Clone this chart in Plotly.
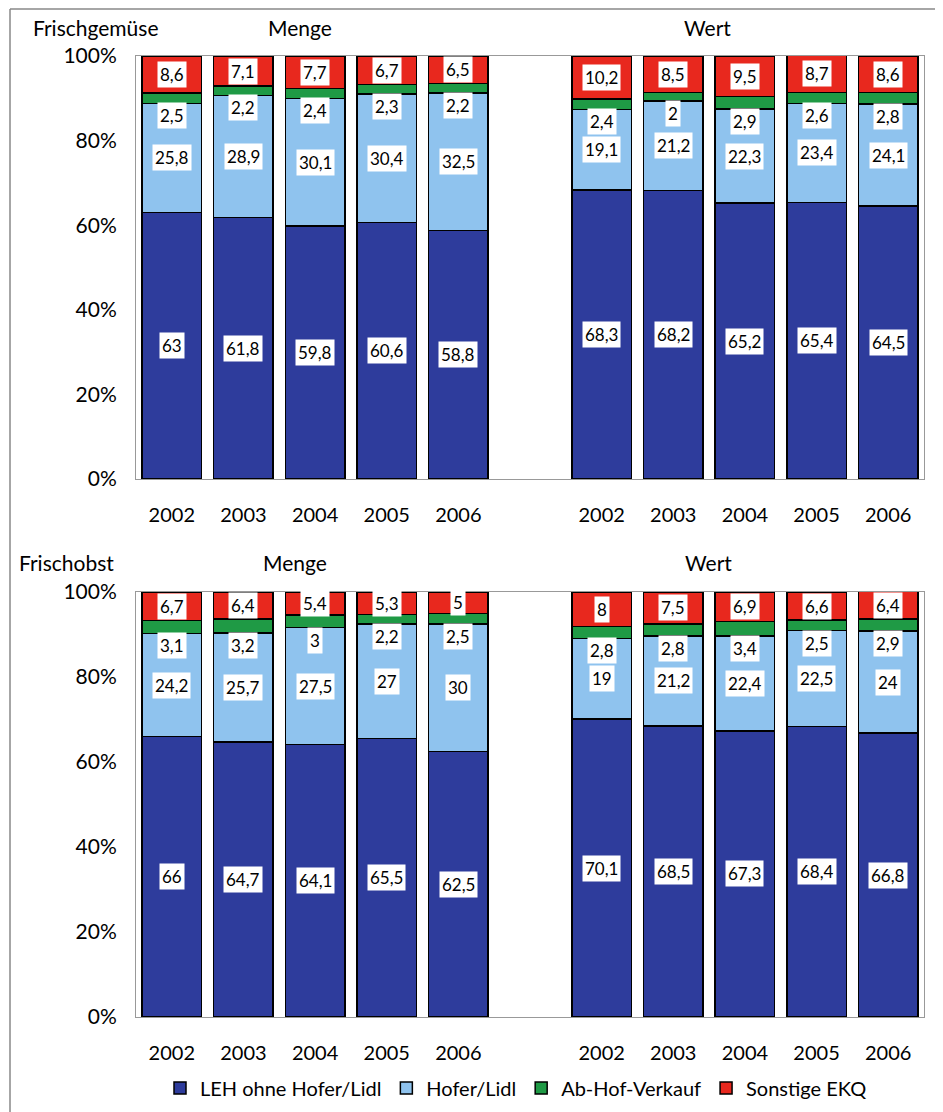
import plotly.graph_objects as go

years = ["2002", "2003", "2004", "2005", "2006"]
series_names = ["LEH ohne Hofer/Lidl", "Hofer/Lidl", "Ab-Hof-Verkauf", "Sonstige EKQ"]
y_ticks = [0, 20, 40, 60, 80, 100]
y_ticklabels = ["0%", "20%", "40%", "60%", "80%", "100%"]

# Frischgemüse
gem_menge_leh = [63, 61.8, 59.8, 60.6, 58.8]
gem_menge_hofer = [25.8, 28.9, 30.1, 30.4, 32.5]
gem_menge_abhof = [2.5, 2.2, 2.4, 2.3, 2.2]
gem_menge_sonst = [8.6, 7.1, 7.7, 6.7, 6.5]
gem_wert_leh = [68.3, 68.2, 65.2, 65.4, 64.5]
gem_wert_hofer = [19.1, 21.2, 22.3, 23.4, 24.1]
gem_wert_abhof = [2.4, 2, 2.9, 2.6, 2.8]
gem_wert_sonst = [10.2, 8.5, 9.5, 8.7, 8.6]

# Frischobst
obst_menge_leh = [66, 64.7, 64.1, 65.5, 62.5]
obst_menge_hofer = [24.2, 25.7, 27.5, 27, 30]
obst_menge_abhof = [3.1, 3.2, 3, 2.2, 2.5]
obst_menge_sonst = [6.7, 6.4, 5.4, 5.3, 5]
obst_wert_leh = [70.1, 68.5, 67.3, 68.4, 66.8]
obst_wert_hofer = [19, 21.2, 22.4, 22.5, 24]
obst_wert_abhof = [2.8, 2.8, 3.4, 2.5, 2.9]
obst_wert_sonst = [8, 7.5, 6.9, 6.6, 6.4]

colors = ["#2E3C9C", "#8FC3EE", "#1F9A45", "#E8281E"]
FONT = "Lato, Roboto, sans-serif"

# the page adds an 8px body margin; lay out in reference pixels minus that offset
OFF = 8
W, H = 943 - OFF, 1112 - OFF


def px(x):
    return (x - OFF) / W


def py(y):
    return 1 - (y - OFF) / H


slots_menge = [0, 1, 2, 3, 4]
slots_wert = [6, 7, 8, 9, 10]

panels = [
    dict(row=1, menge=[gem_menge_leh, gem_menge_hofer, gem_menge_abhof, gem_menge_sonst],
         wert=[gem_wert_leh, gem_wert_hofer, gem_wert_abhof, gem_wert_sonst]),
    dict(row=2, menge=[obst_menge_leh, obst_menge_hofer, obst_menge_abhof, obst_menge_sonst],
         wert=[obst_wert_leh, obst_wert_hofer, obst_wert_abhof, obst_wert_sonst]),
]

fig = go.Figure()


def fmt(v):
    return ("%g" % v).replace(".", ",")


annotations = []
for p in panels:
    xa = "x" if p["row"] == 1 else "x2"
    ya = "y" if p["row"] == 1 else "y2"
    for si in range(4):
        xs = slots_menge + slots_wert
        ys = p["menge"][si] + p["wert"][si]
        fig.add_trace(go.Bar(
            x=xs, y=ys, name=series_names[si], xaxis=xa, yaxis=ya,
            marker=dict(color=colors[si], line=dict(color="black", width=1.5)),
            width=0.83, showlegend=(p["row"] == 1), legendgroup=series_names[si],
            hoverinfo="skip",
        ))
    for grp, slots in (("menge", slots_menge), ("wert", slots_wert)):
        leh, hof, ab, so = p[grp]
        for i, xv in enumerate(slots):
            positions = [
                (leh[i], leh[i] / 2),
                (hof[i], leh[i] + hof[i] / 2),
                (ab[i], leh[i] + hof[i] - 2.9),
                (so[i], leh[i] + hof[i] + ab[i] + so[i] / 2),
            ]
            for val, yv in positions:
                annotations.append(dict(
                    x=xv, y=yv, xref=xa, yref=ya, text=fmt(val), showarrow=False,
                    bgcolor="white", borderpad=2,
                    font=dict(family=FONT, size=17, color="black"),
                ))

xdom = [px(136), px(924)]
top_dom = [py(479), py(56)]
bot_dom = [py(1017), py(592)]

axis_common_x = dict(
    range=[-0.5, 10.5], tickvals=slots_menge + slots_wert, ticktext=years + years,
    showgrid=False, zeroline=False, showline=True, linecolor="#999999", linewidth=1,
    mirror=True, ticks="", tickfont=dict(family=FONT, size=20, color="black"),
    ticklabelstandoff=18, domain=xdom, automargin=False,
)
axis_common_y = dict(
    range=[0, 100], tickvals=y_ticks, ticktext=y_ticklabels,
    showgrid=False, zeroline=False, showline=True, linecolor="#999999", linewidth=1,
    mirror=True, ticks="", tickfont=dict(family=FONT, size=21, color="black"),
    ticklabelstandoff=14, automargin=False,
)

fig.update_layout(
    width=W, height=H, barmode="stack",
    margin=dict(l=0, r=0, t=0, b=0, autoexpand=False),
    paper_bgcolor="white", plot_bgcolor="white",
    xaxis=dict(axis_common_x, anchor="y"),
    yaxis=dict(axis_common_y, domain=top_dom, anchor="x"),
    xaxis2=dict(axis_common_x, anchor="y2"),
    yaxis2=dict(axis_common_y, domain=bot_dom, anchor="x2"),
    legend=dict(orientation="h", x=px(516), xanchor="center", y=py(1088), yanchor="middle",
                font=dict(family=FONT, size=20, color="black"), itemwidth=30,
                tracegroupgap=0, bgcolor="rgba(0,0,0,0)"),
    showlegend=True,
)

titles = [
    ("Frischgemüse", 96, 28), ("Menge", 300, 28), ("Wert", 707, 28),
    ("Frischobst", 67, 562), ("Menge", 295, 562), ("Wert", 708, 562),
]
for t, tx, ty in titles:
    annotations.append(dict(
        x=px(tx), y=py(ty), xref="paper", yref="paper", text=t, showarrow=False,
        xanchor="center", yanchor="middle", font=dict(family=FONT, size=21, color="black"),
    ))

fig.update_layout(annotations=annotations)
# outer frame (top and left edges visible in the reference)
fig.add_shape(type="line", xref="paper", yref="paper",
              x0=px(10), x1=1, y0=1 - 1 / H, y1=1 - 1 / H,
              line=dict(color="#888888", width=1.5))
fig.add_shape(type="line", xref="paper", yref="paper",
              x0=px(10), x1=px(10), y0=0, y1=1 - 1 / H,
              line=dict(color="#888888", width=1.5))

fig.write_html("out.html")
